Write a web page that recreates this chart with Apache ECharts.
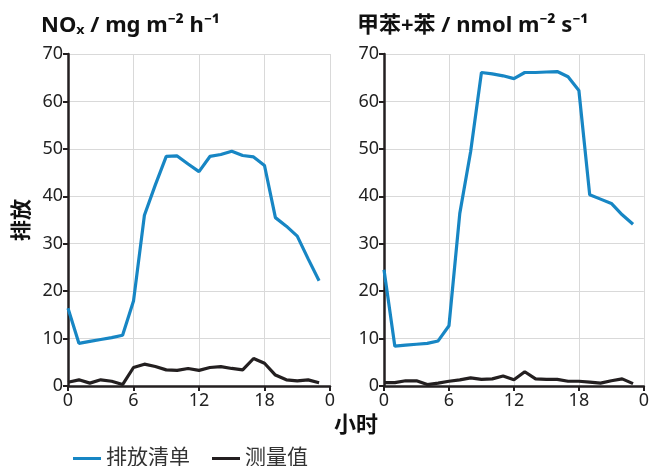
<!DOCTYPE html>
<html>
<head>
<meta charset="utf-8">
<script src="https://cdn.jsdelivr.net/npm/echarts@6/dist/echarts.min.js"></script>
<style>
html,body{margin:0;padding:0;background:#fff;}
#chart{width:652px;height:466px;}
</style>
</head>
<body>
<div id="chart"></div>
<script>
var hours = [0,1,2,3,4,5,6,7,8,9,10,11,12,13,14,15,16,17,18,19,20,21,22,23];
var xTicks = ['0','6','12','18','0'];
var titleLeft = 'NOₓ / mg m⁻² h⁻¹';
var titleRight = '甲苯+苯 / nmol m⁻² s⁻¹';
var seriesNames = ['排放清单', '测量值'];
var noxInventory = [16.4,9.0,9.4,9.8,10.2,10.7,17.9,36.0,42.4,48.4,48.5,46.8,45.2,48.4,48.8,49.5,48.6,48.3,46.5,35.5,33.7,31.6,26.8,22.2];
var noxMeasured = [0.8,1.3,0.6,1.3,1.0,0.3,3.9,4.6,4.1,3.4,3.3,3.7,3.3,3.9,4.1,3.7,3.4,5.8,4.8,2.3,1.3,1.1,1.3,0.7];
var btxInventory = [24.5,8.4,8.6,8.8,9.0,9.5,12.7,36.4,49.4,66.1,65.8,65.4,64.8,66.1,66.1,66.2,66.3,65.2,62.3,40.3,39.4,38.5,36.1,34.1];
var btxMeasured = [0.7,0.7,1.1,1.1,0.3,0.6,1.0,1.3,1.7,1.4,1.5,2.1,1.3,3.0,1.5,1.4,1.4,1.0,1.0,0.8,0.6,1.1,1.5,0.5];

var FONT = '"Noto Sans", "Noto Sans CJK SC", sans-serif';
var BLUE = '#1786c4';
var DARK = '#231f20';

function pairs(vals){ return vals.map(function(v,i){ return [hours[i], v]; }); }

function xAxis(idx){
  return {
    type:'value', gridIndex: idx, min:0, max:24, interval:6,
    axisLine:{show:true, onZero:false, lineStyle:{color:DARK, width:2.5}},
    axisTick:{show:true, length:5, lineStyle:{color:DARK, width:2}},
    axisLabel:{color:'#222', fontSize:18, fontFamily:FONT, margin:6,
      formatter:function(v){ return xTicks[Math.round(v/6)]; }},
    splitLine:{show:true, lineStyle:{color:'#d9d9d9', width:1}}
  };
}
function yAxis(idx, name){
  return {
    type:'value', gridIndex: idx, min:0, max:70, interval:10,
    name: name, nameLocation:'middle', nameGap:35, nameRotate:90,
    nameTextStyle:{color:'#111', fontSize:21, fontWeight:'bold', fontFamily:FONT},
    axisLine:{show:true, lineStyle:{color:DARK, width:2.5}},
    axisTick:{show:true, length:5, lineStyle:{color:DARK, width:2}},
    axisLabel:{color:'#222', fontSize:18, fontFamily:FONT, margin:5},
    splitLine:{show:true, lineStyle:{color:'#d9d9d9', width:1}}
  };
}
function line(name, data, color, xi){
  return {
    name:name, type:'line', xAxisIndex:xi, yAxisIndex:xi, data:pairs(data),
    showSymbol:false, symbol:'none', lineStyle:{color:color, width:3.2}, itemStyle:{color:color},
    z: name === seriesNames[0] ? 3 : 4
  };
}

var chart = echarts.init(document.getElementById('chart'), null, {renderer:'canvas'});
chart.setOption({
  animation:false,
  backgroundColor:'#fff',
  textStyle:{fontFamily:FONT},
  title:[
    {text:titleLeft, left:36, top:10, textStyle:{fontSize:22, fontWeight:'bold', color:'#111', fontFamily:FONT}},
    {text:titleRight, left:352, top:10, textStyle:{fontSize:22, fontWeight:'bold', color:'#111', fontFamily:FONT}}
  ],
  grid:[
    {left:68, top:54, width:262, height:332, containLabel:false},
    {left:384, top:54, width:263, height:332, containLabel:false}
  ],
  xAxis:[xAxis(0), xAxis(1)],
  yAxis:[yAxis(0,'排放'), yAxis(1,'')],
  legend:{
    left:68, top:443, itemWidth:28, itemHeight:3, itemGap:22, icon:'rect',
    textStyle:{color:'#333', fontSize:21, fontFamily:FONT},
    data:[{name:seriesNames[0], itemStyle:{color:BLUE}}, {name:seriesNames[1], itemStyle:{color:DARK}}]
  },
  graphic:[
    {type:'text', left:334, top:413, style:{text:'小时', fill:'#111', font:'bold 22px "Noto Sans CJK SC", sans-serif'}}
  ],
  series:[
    line(seriesNames[0], noxInventory, BLUE, 0),
    line(seriesNames[1], noxMeasured, DARK, 0),
    line(seriesNames[0], btxInventory, BLUE, 1),
    line(seriesNames[1], btxMeasured, DARK, 1)
  ]
});
</script>
</body>
</html>
